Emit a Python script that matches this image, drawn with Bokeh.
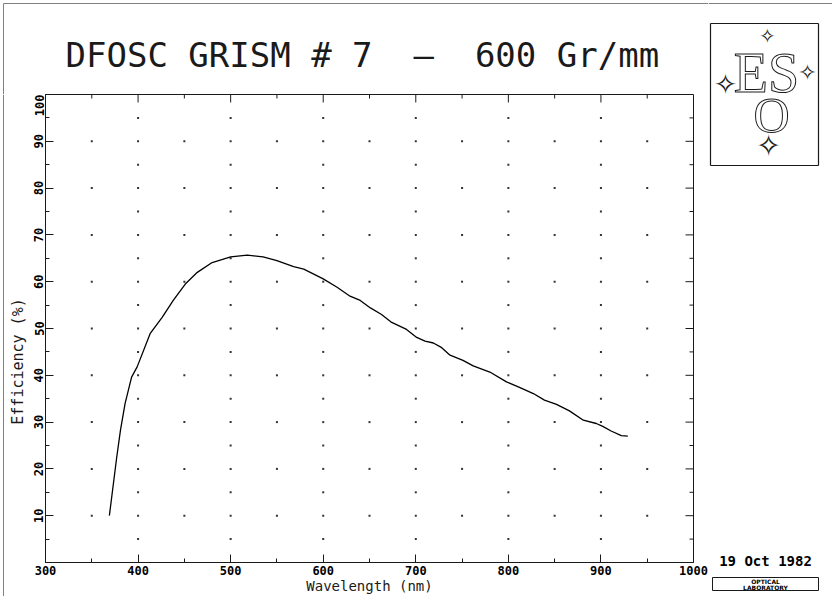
import math
from bokeh.plotting import figure
from bokeh.layouts import row, column
from bokeh.models import Range1d, FixedTicker, ColumnDataSource
from bokeh.core.properties import value
from bokeh.embed import file_html
from bokeh.resources import INLINE

# ---------------- data ----------------
wavelength_nm = [369, 377, 381, 386, 393, 399, 413, 426, 438, 451, 464, 480, 500, 518,
                 535, 550, 568, 579, 600, 615, 629, 640, 651, 663, 674, 690, 701, 710,
                 719, 728, 737, 751, 762, 780, 798, 812, 827, 839, 852, 866, 881, 895,
                 902, 911, 922, 929]
efficiency_pct = [10.0, 22.6, 28.3, 34.0, 39.6, 41.8, 48.9, 52.4, 56.0, 59.5, 62.0, 64.1,
                  65.3, 65.7, 65.3, 64.5, 63.2, 62.7, 60.6, 58.8, 56.9, 56.0, 54.4, 53.0,
                  51.3, 49.8, 48.1, 47.3, 46.9, 45.9, 44.3, 43.2, 42.0, 40.7, 38.6, 37.4,
                  36.1, 34.7, 33.8, 32.4, 30.4, 29.7, 29.1, 28.1, 27.1, 27.0]

x_major = [300, 400, 500, 600, 700, 800, 900, 1000]
x_minor = [350, 450, 550, 650, 750, 850, 950]
y_major = [10, 20, 30, 40, 50, 60, 70, 80, 90, 100]
y_minor = [5, 15, 25, 35, 45, 55, 65, 75, 85, 95]

title_text = "DFOSC GRISM # 7 \u00a0\u2014 \u00a0600 Gr/mm"
x_label = "Wavelength (nm)"
y_label = "Efficiency (%)"
date_text = "19 Oct 1982"
stamp_lines = ["OPTICAL", "LABORATORY"]
logo_top = "ES"
logo_bottom = "O"

MONO = "DejaVu Sans Mono"
SERIF = "Liberation Serif"
INK = "#1a1a1a"
EDGE = "#808080"

# page layout (pixels)
W, H = 832, 600
BOT_H = 4            # thin strip holding the bottom page-border line
MAIN_H = H - BOT_H   # 596
LEFT_W = 28          # strip with the y-axis title
RIGHT_X = 708        # right strip: logo, date, stamp
TOP_H = 94           # title strip above the plot frame
L, R, B = 45, 693, 563   # plot frame edges on the page


def canvas_fig(w, h, x0, x1, y0, y1):
    """Figure whose frame fills the whole canvas, in page-pixel coordinates."""
    f = figure(width=w, height=h, x_range=Range1d(x0, x1), y_range=Range1d(y1, y0),
               min_border=0, x_axis_location=None, y_axis_location=None,
               toolbar_location=None, output_backend="svg", title=None)
    f.xgrid.visible = False
    f.ygrid.visible = False
    f.outline_line_color = None
    f.background_fill_color = "white"
    f.border_fill_color = "white"
    return f


def txt(f, x, y, s, font, size, **kw):
    f.text(x=[x], y=[y], text=[s], text_font=value(font), text_font_size=value(size),
           text_align=kw.pop("align", "center"), text_baseline="middle",
           text_color=kw.pop("color", INK), **kw)


# ---------------- title strip (page x 0..708, y 0..94) ----------------
top = canvas_fig(RIGHT_X, TOP_H, 0, RIGHT_X, 0, TOP_H)
top.segment(x0=[3, 3], y0=[3, 3], x1=[RIGHT_X, 3], y1=[3, TOP_H], line_color=EDGE, line_width=1)
txt(top, 65, 54, title_text, MONO, "34px", align="left")

# ---------------- left strip: page border + y-axis title ----------------
left = canvas_fig(LEFT_W, MAIN_H - TOP_H, 0, LEFT_W, TOP_H, MAIN_H)
left.segment(x0=[3], y0=[TOP_H], x1=[3], y1=[MAIN_H], line_color=EDGE, line_width=1)
txt(left, 17, 361, y_label, MONO, "15px", angle=math.pi / 2)

# ---------------- main plot ----------------
p = figure(width=RIGHT_X - LEFT_W, height=MAIN_H - TOP_H, output_backend="svg",
           toolbar_location=None, x_range=Range1d(300, 1000), y_range=Range1d(0, 100),
           title=None, min_border_left=L - LEFT_W, min_border_right=RIGHT_X - R,
           min_border_top=0, min_border_bottom=MAIN_H - B)
p.grid.visible = False
p.outline_line_color = INK
p.outline_line_width = 1
p.background_fill_color = "white"
p.border_fill_color = "white"

xa = p.xaxis[0]
xa.ticker = FixedTicker(ticks=x_major, minor_ticks=x_minor)
ya = p.yaxis[0]
ya.ticker = FixedTicker(ticks=y_major, minor_ticks=y_minor)
for ax in (xa, ya):
    ax.axis_line_color = INK
    ax.major_tick_in = 8
    ax.major_tick_out = 0
    ax.minor_tick_in = 4
    ax.minor_tick_out = 0
    ax.major_tick_line_color = INK
    ax.minor_tick_line_color = INK
    ax.major_label_text_font = MONO
    ax.major_label_text_font_style = "bold"
    ax.major_label_text_font_size = "12px"
    ax.major_label_text_color = "black"
ya.major_label_orientation = "vertical"
ya.major_label_standoff = 2
xa.major_label_standoff = 3
xa.axis_label = x_label
xa.axis_label_text_font = MONO
xa.axis_label_text_font_style = "normal"
xa.axis_label_text_font_size = "14px"
xa.axis_label_text_color = INK
xa.axis_label_standoff = 0

# inward ticks on the top and right frame edges
p.ray(x=x_major[1:-1], y=[100] * (len(x_major) - 2), length=8, length_units="screen",
      angle=-math.pi / 2, line_color=INK, line_width=1)
p.ray(x=x_minor, y=[100] * len(x_minor), length=4, length_units="screen",
      angle=-math.pi / 2, line_color=INK, line_width=1)
p.ray(x=[1000] * (len(y_major) - 1), y=y_major[:-1], length=8, length_units="screen",
      angle=math.pi, line_color=INK, line_width=1)
p.ray(x=[1000] * len(y_minor), y=y_minor, length=4, length_units="screen",
      angle=math.pi, line_color=INK, line_width=1)

# dotted grid: dots every 50 nm on 10 % rows, every 100 nm on 5 % rows
gx, gy = [], []
for yv in y_major[:-1]:
    for xv in sorted(x_minor + x_major[1:-1]):
        gx.append(xv); gy.append(yv)
for yv in y_minor:
    for xv in x_major[1:-1]:
        gx.append(xv); gy.append(yv)
p.scatter(gx, gy, marker="square", size=2, color="#333333", line_width=0)

src = ColumnDataSource(dict(x=wavelength_nm, y=efficiency_pct))
p.line("x", "y", source=src, line_color="black", line_width=1.3)

# ---------------- right strip: ESO logo, date, stamp ----------------
right = canvas_fig(W - RIGHT_X, MAIN_H, RIGHT_X, W, 0, MAIN_H)
right.segment(x0=[RIGHT_X], y0=[3], x1=[W], y1=[3], line_color=EDGE, line_width=1)
right.segment(x0=[710, 710, 710, 818], y0=[23, 165, 23, 23], x1=[818, 818, 710, 818],
              y1=[23, 165, 165, 165], line_color=INK, line_width=1.2)
txt(right, 766, 72, logo_top, SERIF, "56px", color="white", text_outline_color=INK)
txt(right, 771, 114, logo_bottom, SERIF, "50px", color="white", text_outline_color=INK)
for sx, sy, fs in [(767, 35, "20px"), (725, 84, "28px"), (807, 72, "22px"), (768, 145, "30px")]:
    txt(right, sx, sy, "\u2727", "DejaVu Sans", fs)
txt(right, 765, 560, date_text, MONO, "14px", color="black", text_font_style="bold")
right.segment(x0=[712, 712, 712, 818], y0=[577, 590, 577, 577], x1=[818, 818, 712, 818],
              y1=[577, 590, 590, 590], line_color=INK, line_width=1)
right.text(x=[765, 765], y=[580.5, 586.5], text=stamp_lines, text_font=value("DejaVu Sans"),
           text_font_style="bold", text_font_size=value("6px"), text_color="black",
           text_align="center", text_baseline="middle")

# ---------------- bottom strip: page border ----------------
bot = canvas_fig(W, BOT_H, 0, W, MAIN_H, H)
bot.segment(x0=[3, 3], y0=[597, MAIN_H], x1=[W, 3], y1=[597, 597], line_color=EDGE, line_width=1)

layout = column(row(column(top, row(left, column(p))), right), bot)
open("out.html", "w").write(file_html(layout, INLINE))
